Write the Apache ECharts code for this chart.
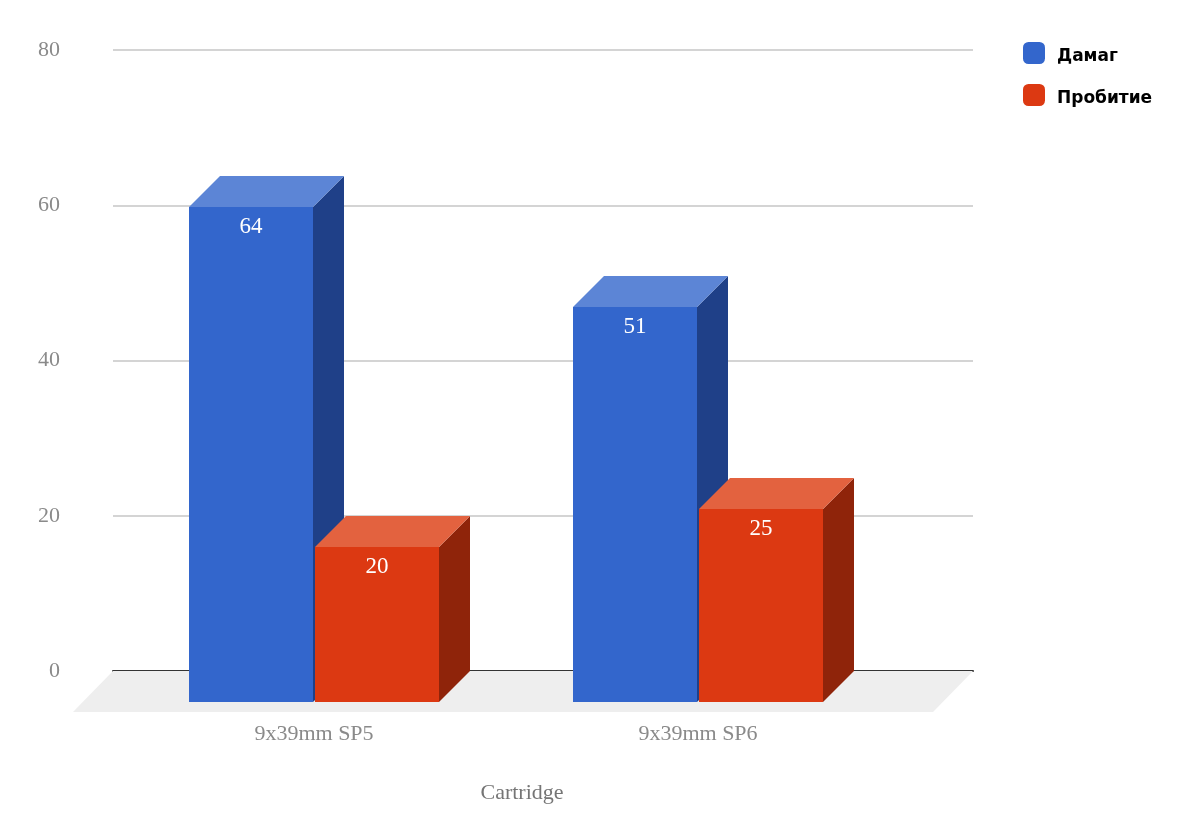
<!DOCTYPE html>
<html>
<head>
<meta charset="utf-8">
<style>html,body{margin:0;padding:0;background:#fff}#c{width:1194px;height:838px}</style>
<script src="https://cdn.jsdelivr.net/npm/echarts@6/dist/echarts.min.js"></script>
</head>
<body>
<div id="c"></div>
<script>
const categories = ['9x39mm SP5', '9x39mm SP6'];
const damage = [64, 51];
const penetration = [20, 25];
const seriesNames = ['Дамаг', 'Пробитие'];
const yTicks = [0, 20, 40, 60, 80];
const xTitle = 'Cartridge';

const SERIF = '"Liberation Serif", serif';
const DEPTH = 31;
const BAR_W = 124;

function bar3d(colors, side) {
  return function (params, api) {
    const c = api.coord([api.value(0), api.value(1)]);
    const base = api.coord([api.value(0), 0]);
    const x0 = side < 0 ? c[0] - BAR_W - 1 : c[0] + 1;
    const x1 = x0 + BAR_W;
    const y = Math.round(c[1]), b = base[1];
    return {
      type: 'group',
      children: [
        { type: 'polygon', shape: { points: [[x1, y], [x1 + DEPTH, y - DEPTH], [x1 + DEPTH, b - DEPTH], [x1, b]] }, style: { fill: colors.side } },
        { type: 'polygon', shape: { points: [[x0, y], [x0 + DEPTH, y - DEPTH], [x1 + DEPTH, y - DEPTH], [x1, y]] }, style: { fill: colors.top } },
        { type: 'rect', shape: { x: x0, y: y, width: BAR_W, height: b - y }, style: { fill: colors.front } },
        { type: 'text', x: (x0 + x1) / 2, y: y + 19.5, style: { text: String(api.value(1)), fill: '#ffffff', font: '23px ' + SERIF, textAlign: 'center', textVerticalAlign: 'middle' } }
      ]
    };
  };
}

function floor(params) {
  const g = params.coordSys;
  const b = g.y + g.height;
  return {
    type: 'polygon',
    shape: { points: [[g.x, b], [g.x + g.width, b], [g.x + g.width - 40, b + 41], [g.x - 40, b + 41]] },
    style: { fill: '#eeeeee' }
  };
}

const chart = echarts.init(document.getElementById('c'), null, { renderer: 'canvas' });
chart.setOption({
  animation: false,
  backgroundColor: '#ffffff',
  title: {
    text: xTitle, left: 517, top: 777, textAlign: 'center',
    textStyle: { fontFamily: SERIF, fontSize: 22, fontWeight: 'normal', color: '#757575' }
  },
  legend: {
    orient: 'vertical', left: 1018, top: 37, itemWidth: 22, itemHeight: 22, itemGap: 18.5,
    icon: 'roundRect', data: seriesNames,
    formatter: '{t|{name}}',
    textStyle: {
      rich: { t: { fontFamily: '"DejaVu Sans"', fontWeight: 'bold', fontSize: 17, color: '#000', padding: [8, 0, 0, 7] } }
    }
  },
  grid: [
    { left: 113, right: 221, top: 50, bottom: 167 },
    { left: 122, right: 304, top: 83, bottom: 136 }
  ],
  xAxis: [
    { gridIndex: 0, type: 'category', data: [''], axisTick: { show: false }, axisLabel: { show: false },
      axisLine: { lineStyle: { color: '#333333', width: 2 } } },
    { gridIndex: 1, type: 'category', data: categories, axisTick: { show: false }, axisLine: { show: false },
      axisLabel: { fontFamily: SERIF, fontSize: 22, color: '#8a8a8a', margin: 21 } }
  ],
  yAxis: [
    { gridIndex: 0, type: 'value', min: 0, max: 80, interval: 20, axisLine: { show: false }, axisTick: { show: false },
      axisLabel: { fontFamily: SERIF, fontSize: 22, color: '#8a8a8a', margin: 53, padding: [0, 0, 2, 0] },
      splitLine: { lineStyle: { color: '#d4d4d4', width: 2 } } },
    { gridIndex: 1, type: 'value', min: 0, max: 80, interval: 20, show: false, splitLine: { show: false } }
  ],
  series: [
    { type: 'custom', xAxisIndex: 0, yAxisIndex: 0, renderItem: floor, data: [[0, 0]], silent: true, z: 1, legendHoverLink: false, tooltip: { show: false } },
    { type: 'custom', name: seriesNames[0], xAxisIndex: 1, yAxisIndex: 1, z: 3, itemStyle: { color: '#3366cc' },
      renderItem: bar3d({ front: '#3366cc', top: '#5c85d6', side: '#1f4088' }, -1),
      data: categories.map((_, i) => [i, damage[i]]) },
    { type: 'custom', name: seriesNames[1], xAxisIndex: 1, yAxisIndex: 1, z: 3, itemStyle: { color: '#dc3912' },
      renderItem: bar3d({ front: '#dc3912', top: '#e3623f', side: '#8f240a' }, 1),
      data: categories.map((_, i) => [i, penetration[i]]) }
  ]
});
</script>
</body>
</html>
